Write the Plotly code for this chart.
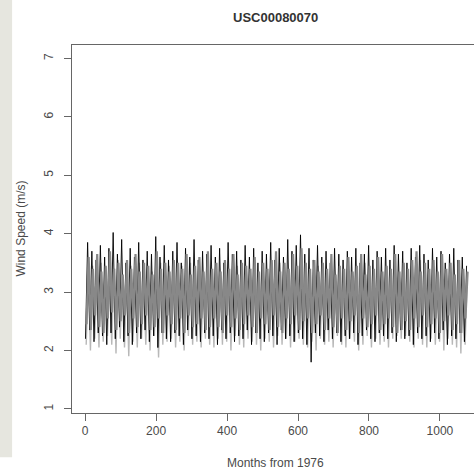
import plotly.graph_objects as go

station = "USC00080070"
x_ticks = [0, 200, 400, 600, 800, 1000]
y_ticks = [1, 2, 3, 4, 5, 6, 7]

# per-year seasonal peaks / troughs (m/s)
black_peak = [3.85, 3.7, 3.55, 3.8, 3.6, 3.75, 4.02, 3.65, 3.9, 3.5,
              3.75, 3.6, 3.85, 3.55, 3.7, 3.65, 3.95, 3.6, 3.8, 3.55,
              3.7, 3.85, 3.5, 3.75, 3.6, 3.9, 3.55, 3.7, 3.65, 3.8,
              3.6, 3.75, 3.5, 3.85, 3.65, 3.7, 3.55, 3.8, 3.6, 3.75,
              3.5, 3.7, 3.65, 3.85, 3.55, 3.75, 3.6, 3.9, 3.7, 3.8,
              3.98, 3.65, 3.75, 3.55, 3.8, 3.6, 3.7, 3.5, 3.75, 3.65,
              3.55, 3.7, 3.6, 3.75, 3.5, 3.65, 3.8, 3.55, 3.7, 3.6,
              3.75, 3.55, 3.8, 3.65, 3.7, 3.5, 3.75, 3.6, 3.8, 3.65,
              3.55, 3.75, 3.6, 3.7, 3.5, 3.65, 3.75, 3.55, 3.6, 3.45]
black_trough = [2.2, 2.35, 2.15, 2.3, 2.25, 2.1, 2.3, 2.2, 2.4, 2.15,
                2.25, 2.1, 2.3, 2.2, 2.35, 2.15, 2.25, 2.05, 2.3, 2.2,
                2.15, 2.3, 2.25, 2.1, 2.35, 2.2, 2.25, 2.15, 2.3, 2.2,
                2.25, 2.1, 2.35, 2.2, 2.3, 2.15, 2.25, 2.2, 2.35, 2.1,
                2.3, 2.2, 2.15, 2.3, 2.25, 2.1, 2.35, 2.2, 2.25, 2.15,
                2.3, 2.2, 2.1, 1.8, 2.3, 2.25, 2.15, 2.35, 2.2, 2.3,
                2.15, 2.25, 2.2, 2.3, 2.1, 2.25, 2.35, 2.2, 2.15, 2.3,
                2.25, 2.2, 2.3, 2.15, 2.35, 2.2, 2.25, 2.1, 2.3, 2.2,
                2.25, 2.15, 2.3, 2.2, 2.35, 2.1, 2.25, 2.2, 2.3, 2.15]
gray_peak = [3.6, 3.4, 3.65, 3.35, 3.45, 3.7, 3.4, 3.5, 3.3, 3.55,
             3.4, 3.65, 3.35, 3.5, 3.45, 3.3, 3.7, 3.4, 3.5, 3.35,
             3.55, 3.5, 3.4, 3.65, 3.3, 3.45, 3.6, 3.35, 3.7, 3.4,
             3.5, 3.35, 3.55, 3.4, 3.65, 3.3, 3.5, 3.45, 3.4, 3.6,
             3.35, 3.5, 3.4, 3.55, 3.7, 3.35, 3.5, 3.4, 3.65, 3.45,
             3.75, 3.5, 3.4, 3.55, 3.35, 3.5, 3.4, 3.65, 3.3, 3.45,
             3.4, 3.6, 3.35, 3.45, 3.65, 3.3, 3.45, 3.4, 3.6, 3.35,
             3.45, 3.4, 3.65, 3.35, 3.5, 3.4, 3.55, 3.7, 3.35, 3.5,
             3.4, 3.55, 3.35, 3.65, 3.4, 3.5, 3.3, 3.55, 3.4, 3.35]
gray_trough = [2.45, 2.35, 2.6, 2.4, 2.3, 2.55, 2.65, 2.35, 2.5, 2.6,
               2.3, 2.55, 2.4, 2.45, 2.6, 2.35, 2.4, 2.55, 2.3, 2.6,
               2.45, 2.35, 2.55, 2.3, 2.6, 2.4, 2.45, 2.55, 2.35, 2.4,
               2.55, 2.4, 2.3, 2.6, 2.4, 2.55, 2.35, 2.45, 2.6, 2.4,
               2.3, 2.55, 2.45, 2.35, 2.6, 2.4, 2.3, 2.55, 2.45, 2.6,
               2.35, 2.5, 2.55, 2.3, 2.45, 2.6, 2.35, 2.55, 2.4, 2.3,
               2.55, 2.35, 2.5, 2.6, 2.3, 2.55, 2.4, 2.45, 2.6, 2.35,
               2.45, 2.55, 2.4, 2.3, 2.35, 2.5, 2.35, 2.55, 2.4, 2.6,
               2.4, 2.45, 2.55, 2.3, 2.5, 2.6, 2.35, 2.45, 2.3, 2.55]
light_peak = [3.3, 3.45, 3.2, 3.5, 3.35, 3.25, 3.4, 3.55, 3.3, 3.2,
              3.45, 3.3, 3.5, 3.25, 3.4, 3.35, 3.2, 3.5, 3.3, 3.45,
              3.35, 3.2, 3.45, 3.3, 3.5, 3.25, 3.4, 3.3, 3.55, 3.2,
              3.4, 3.3, 3.5, 3.25, 3.35, 3.45, 3.2, 3.4, 3.3, 3.5,
              3.25, 3.45, 3.3, 3.4, 3.2, 3.5, 3.35, 3.3, 3.45, 3.25,
              3.5, 3.3, 3.4, 3.2, 3.45, 3.35, 3.25, 3.5, 3.3, 3.4,
              3.3, 3.45, 3.2, 3.4, 3.35, 3.5, 3.25, 3.3, 3.45, 3.2,
              3.4, 3.3, 3.5, 3.25, 3.35, 3.2, 3.45, 3.3, 3.55, 3.4,
              3.3, 3.45, 3.2, 3.5, 3.35, 3.4, 3.25, 3.45, 3.3, 3.35]
light_trough = [2.1, 2.0, 2.2, 2.05, 2.15, 2.25, 2.1, 1.95, 2.2, 2.05,
                1.9, 2.15, 2.05, 2.2, 2.1, 2.0, 2.25, 1.88, 2.1, 2.15,
                2.2, 2.05, 2.15, 2.0, 2.25, 2.1, 2.15, 2.05, 2.2, 2.1,
                2.05, 2.2, 2.1, 2.15, 2.0, 2.25, 2.1, 2.05, 2.2, 2.15,
                2.1, 2.0, 2.2, 2.15, 2.05, 2.25, 2.1, 2.2, 2.05, 2.15,
                2.2, 2.1, 2.05, 2.15, 2.0, 2.2, 2.1, 2.15, 2.05, 2.25,
                2.1, 2.05, 2.2, 2.15, 2.0, 2.1, 2.25, 2.05, 2.2, 2.1,
                2.15, 2.05, 2.2, 2.25, 2.2, 2.25, 2.15, 2.05, 2.2, 2.1,
                2.05, 2.2, 2.1, 2.15, 2.0, 2.2, 2.1, 2.05, 1.95, 2.1]


def zigzag(troughs, peaks, t_month, p_month):
    xs, ys = [], []
    for i, (lo, hi) in enumerate(zip(troughs, peaks)):
        xs += [12 * i + t_month, 12 * i + p_month]
        ys += [lo, hi]
    return xs, ys


fig = go.Figure()
lx, ly = zigzag(light_trough, light_peak, 3, 9)
bx, by = zigzag(black_trough, black_peak, 1, 7)
gx, gy = zigzag(gray_trough, gray_peak, 4, 10)
fig.add_trace(go.Scatter(x=lx, y=ly, mode="lines", line=dict(color="#b8b8b8", width=1.4)))
fig.add_trace(go.Scatter(x=bx, y=by, mode="lines", line=dict(color="#000000", width=0.9)))
fig.add_trace(go.Scatter(x=gx, y=gy, mode="lines", line=dict(color="#888888", width=2.2)))

font = dict(family="Liberation Sans, Arial, sans-serif", size=12, color="#4a4a4a")

fig.update_layout(
    width=474, height=470,
    margin=dict(l=72, r=0, t=45, b=57),
    paper_bgcolor="white", plot_bgcolor="white",
    showlegend=False, font=font,
    xaxis=dict(range=[-37, 1096], tickvals=x_ticks, ticks="outside", ticklen=7,
               tickcolor="#666666", showline=True, mirror=True, linecolor="#666666",
               linewidth=1, showgrid=False, zeroline=False, tickfont=font,
               automargin=False),
    yaxis=dict(range=[0.93, 7.23], tickvals=y_ticks, ticks="outside", ticklen=7,
               tickcolor="#666666", showline=True, linecolor="#666666", linewidth=1,
               showgrid=False, zeroline=False, tickangle=-90, tickfont=font,
               ticklabelstandoff=6, automargin=False),
    shapes=[dict(type="rect", xref="paper", yref="paper", x0=-0.18, x1=-0.149,
                 y0=-0.12, y1=1.13, fillcolor="#e6e6df", line=dict(width=0), layer="below")],
    annotations=[
        dict(text="<b>" + station + "</b>", xref="paper", yref="paper", x=0.507, y=1.076,
             xanchor="center", yanchor="middle", showarrow=False,
             font=dict(family="Liberation Sans, Arial, sans-serif", size=13, color="#333333")),
        dict(text="Months from 1976", xref="paper", yref="paper", x=0.507, y=-0.136,
             xanchor="center", yanchor="middle", showarrow=False, font=font),
        dict(text="Wind Speed (m/s)", xref="paper", yref="paper", x=-0.128, y=0.5,
             xanchor="center", yanchor="middle", textangle=-90, showarrow=False, font=font),
    ],
)

fig.write_html("out.html", config={"displayModeBar": False},
               post_script="document.body.style.margin='0px';")
